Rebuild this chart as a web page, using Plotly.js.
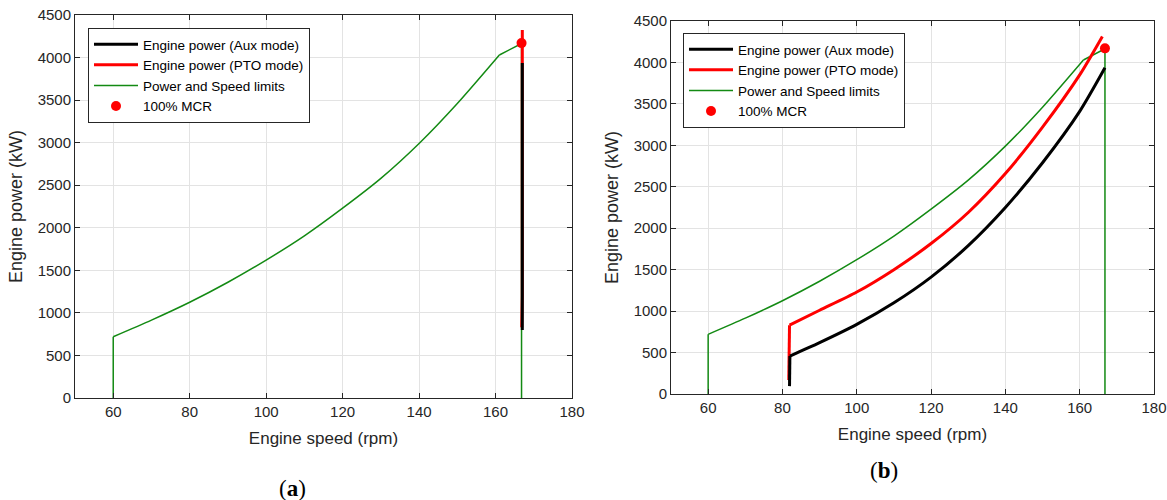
<!DOCTYPE html>
<html><head><meta charset="utf-8">
<script src="https://cdn.plot.ly/plotly-3.0.1.min.js"></script>
<style>html,body{margin:0;padding:0;background:#fff}#chart{width:1167px;height:500px}</style>
</head><body><div id="chart"></div>
<script>
// Power and speed limits (same in both panels)
const limitSpeed = [60, 60, 70, 80, 90, 100, 110, 120, 130, 140, 150, 161, 166.8, 166.8];
const limitPower = [0, 720, 915, 1125, 1360, 1620, 1905, 2230, 2580, 2990, 3460, 4030, 4165, 0];

// Panel (a): constant speed operation
const auxSpeedA = [167, 167];
const auxPowerA = [800, 3935];
const ptoSpeedA = [166.85, 167, 167];
const ptoPowerA = [830, 1200, 4325];

// Panel (b): variable speed operation
const auxSpeedB = [81.9, 82.0, 90, 100, 110, 120, 130, 140, 150, 160, 166.8];
const auxPowerB = [95, 458, 620, 840, 1100, 1410, 1790, 2250, 2790, 3410, 3936];
const ptoSpeedB = [81.7, 81.9, 90, 100, 110, 120, 130, 140, 150, 160, 166.1];
const ptoPowerB = [170, 830, 1010, 1230, 1500, 1815, 2190, 2660, 3220, 3850, 4314];

// 100% MCR point
const mcrSpeed = [166.8];
const mcrPower = [4170];

const seriesNames = ['Engine power (Aux mode)', 'Engine power (PTO mode)', 'Power and Speed limits', '100% MCR'];
const panelLabels = ['(<b>a</b>)', '(<b>b</b>)'];
const xTitle = 'Engine speed (rpm)';
const yTitle = 'Engine power (kW)';

const FONT = 'Liberation Sans, Arial, sans-serif';
const AX = '#262626';
const GREEN = '#138a13', RED = '#ff0000', BLACK = '#000000';

// Build a series as several segments (straight vertical parts, smooth curved parts)
// segments: list of [startIndex, endIndex, shape]
function seriesTraces(xs, ys, segments, opts) {
  return segments.map((seg, k) => ({
    x: xs.slice(seg[0], seg[1] + 1), y: ys.slice(seg[0], seg[1] + 1),
    type: 'scatter', mode: 'lines', name: opts.name,
    line: {color: opts.color, width: opts.width, shape: seg[2], smoothing: 0.7},
    xaxis: opts.xa, yaxis: opts.ya, legend: opts.leg,
    legendgroup: opts.leg + opts.name, showlegend: k === 0, legendrank: opts.rank
  }));
}

function panelTraces(xa, ya, leg, auxX, auxY, ptoX, ptoY, curved) {
  const limSegs = [[0, 1, 'linear'], [1, 11, 'spline'], [11, 13, 'linear']];
  const auxSegs = curved ? [[0, 1, 'linear'], [1, auxX.length - 1, 'spline']] : [[0, auxX.length - 1, 'linear']];
  const ptoSegs = curved ? [[0, 1, 'linear'], [1, ptoX.length - 1, 'spline']] : [[0, ptoX.length - 1, 'linear']];
  return [].concat(
    seriesTraces(limitSpeed, limitPower, limSegs, {name: seriesNames[2], color: GREEN, width: 1.5, xa, ya, leg, rank: 3}),
    seriesTraces(ptoX, ptoY, ptoSegs, {name: seriesNames[1], color: RED, width: 3, xa, ya, leg, rank: 2}),
    seriesTraces(auxX, auxY, auxSegs, {name: seriesNames[0], color: BLACK, width: 3, xa, ya, leg, rank: 1}),
    [{x: mcrSpeed, y: mcrPower, type: 'scatter', mode: 'markers', name: seriesNames[3],
      marker: {color: RED, size: 10}, xaxis: xa, yaxis: ya, legend: leg, legendrank: 4}]
  );
}

const data = [].concat(
  panelTraces('x', 'y', 'legend', auxSpeedA, auxPowerA, ptoSpeedA, ptoPowerA, false),
  panelTraces('x2', 'y2', 'legend2', auxSpeedB, auxPowerB, ptoSpeedB, ptoPowerB, true)
);

function xAxis(domain, anchor) {
  return {domain: domain, anchor: anchor, range: [50, 180], tick0: 0, dtick: 20,
    showgrid: true, gridcolor: '#e3e3e3', gridwidth: 1, zeroline: false,
    showline: true, linecolor: AX, linewidth: 1, mirror: 'ticks',
    ticks: 'inside', ticklen: 5, tickcolor: AX,
    tickfont: {family: FONT, size: 15, color: AX},
    title: {text: xTitle, font: {family: FONT, size: 17, color: AX}, standoff: 13}};
}
function yAxis(domain, anchor) {
  return {domain: domain, anchor: anchor, range: [0, 4500], tick0: 0, dtick: 500,
    showgrid: true, gridcolor: '#e3e3e3', gridwidth: 1, zeroline: false,
    showline: true, linecolor: AX, linewidth: 1, mirror: 'ticks',
    ticks: 'inside', ticklen: 5, tickcolor: AX,
    tickfont: {family: FONT, size: 15, color: AX},
    title: {text: yTitle, font: {family: FONT, size: 18, color: AX}, standoff: 10}};
}

const legendStyle = (x, y) => ({x: x, y: y, xanchor: 'left', yanchor: 'top',
  bgcolor: '#ffffff', bordercolor: AX, borderwidth: 1,
  font: {family: FONT, size: 13.5, color: '#000'}, tracegroupgap: 0, itemwidth: 44});

const layout = {
  width: 1167, height: 500, autosize: false,
  margin: {l: 0, r: 0, t: 0, b: 0},
  paper_bgcolor: '#ffffff', plot_bgcolor: '#ffffff',
  showlegend: true,
  xaxis: xAxis([75/1167, 572/1167], 'y'),
  yaxis: yAxis([1 - 398/500, 1 - 15/500], 'x'),
  xaxis2: xAxis([671/1167, 1154/1167], 'y2'),
  yaxis2: yAxis([1 - 394/500, 1 - 21/500], 'x2'),
  legend: legendStyle(88/1167, 1 - 28/500),
  legend2: legendStyle(683/1167, 1 - 33/500),
  annotations: [
    {text: panelLabels[0], xref: 'paper', yref: 'paper', x: 292/1167, y: 1 - 488/500,
     xanchor: 'center', yanchor: 'middle', showarrow: false,
     font: {family: 'Liberation Serif, serif', size: 23, color: '#000'}},
    {text: panelLabels[1], xref: 'paper', yref: 'paper', x: 884/1167, y: 1 - 470/500,
     xanchor: 'center', yanchor: 'middle', showarrow: false,
     font: {family: 'Liberation Serif, serif', size: 23, color: '#000'}}
  ]
};

Plotly.newPlot('chart', data, layout, {displayModeBar: false, staticPlot: true});
</script>
</body></html>
